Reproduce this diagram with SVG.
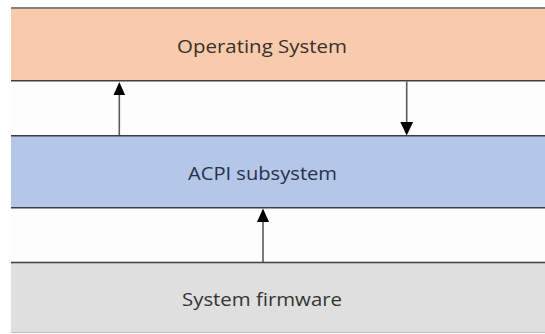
<svg xmlns="http://www.w3.org/2000/svg" width="545" height="334" viewBox="0 0 545 334">
  <defs>
    <style>
      .label { font-family: "Open Sans", "Liberation Sans", sans-serif; font-size: 19px; text-anchor: middle; }
      .edge { stroke: #3f3f3f; stroke-width: 1.6; fill: none; }
      .conn { stroke: #5a5a5a; stroke-width: 1.6; fill: none; }
      .head { fill: #000000; }
    </style>
  </defs>
  <rect x="0" y="0" width="545" height="334" fill="#ffffff"/>
  <rect x="11" y="81" width="534" height="54" fill="#fdfdfe"/>
  <rect x="11" y="208" width="534" height="54" fill="#fdfdfe"/>

  <g id="os">
    <rect x="11" y="8" width="534" height="72.5" fill="#f9cbad"/>
    <line x1="11" y1="8" x2="545" y2="8" stroke="#8a807b" stroke-width="2.2"/>
    <line class="edge" x1="11" y1="80.8" x2="545" y2="80.8"/>
    <text class="label" x="262" y="53" fill="#3a2f2b" textLength="170" lengthAdjust="spacingAndGlyphs">Operating System</text>
  </g>

  <g id="acpi">
    <rect x="11" y="135.5" width="534" height="72" fill="#b4c7e8"/>
    <line class="edge" x1="11" y1="135.8" x2="545" y2="135.8" stroke="#4a5060"/>
    <line class="edge" x1="11" y1="207.8" x2="545" y2="207.8" stroke="#4a5060"/>
    <text class="label" x="262.5" y="180" fill="#27324a" textLength="149" lengthAdjust="spacingAndGlyphs">ACPI subsystem</text>
  </g>

  <g id="firmware">
    <rect x="11" y="262.5" width="534" height="70" fill="#dfdfdf"/>
    <line class="edge" x1="11" y1="262.5" x2="545" y2="262.5"/>
    <line x1="11" y1="332.5" x2="545" y2="332.5" stroke="#b9b9b9" stroke-width="1.2"/>
    <text class="label" x="262" y="306" fill="#333333" textLength="160" lengthAdjust="spacingAndGlyphs">System firmware</text>
  </g>

  <g id="connectors">
    <line class="conn" x1="119.3" y1="135" x2="119.3" y2="94"/>
    <polygon class="head" points="119.3,82 113.5,95 125.1,95"/>
    <line class="conn" x1="406.7" y1="81.5" x2="406.7" y2="123"/>
    <polygon class="head" points="406.7,135.5 400.3,122 413.1,122"/>
    <line class="conn" x1="263" y1="262" x2="263" y2="221"/>
    <polygon class="head" points="263,208.5 257,222 269,222"/>
  </g>
</svg>
